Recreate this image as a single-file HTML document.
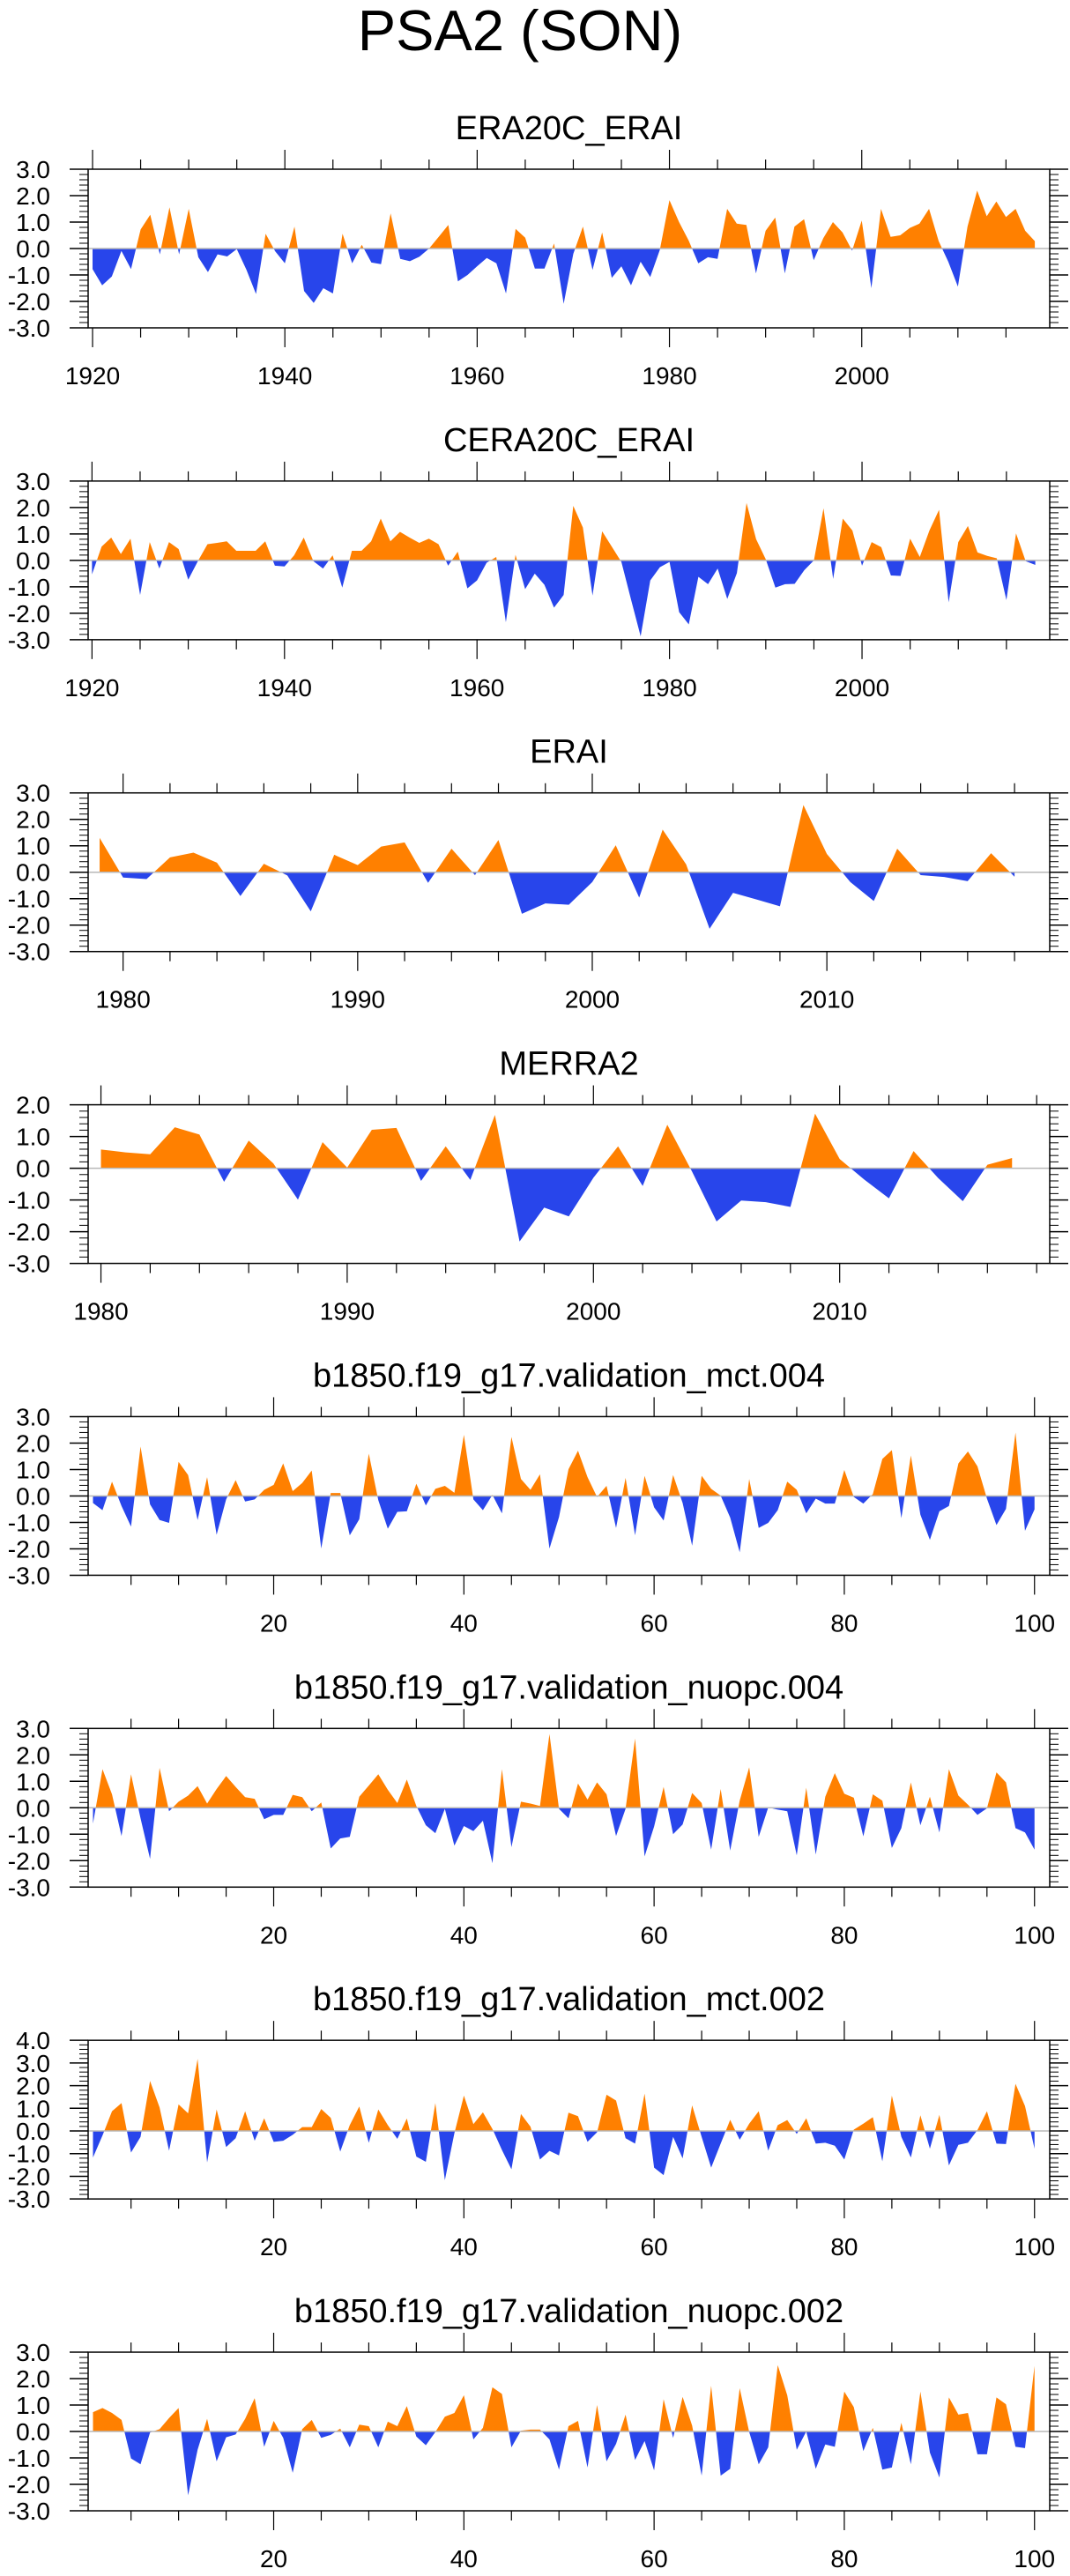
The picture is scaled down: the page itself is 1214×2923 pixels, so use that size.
<!DOCTYPE html>
<html><head><meta charset="utf-8"><title>PSA2 (SON)</title>
<style>
html,body{margin:0;padding:0;background:#fff;}
svg{display:block;font-family:"Liberation Sans",Arial,sans-serif;}
</style></head>
<body>
<svg id="fig" width="1214" height="2923" viewBox="0 0 1214 2923" xmlns="http://www.w3.org/2000/svg">
<text x="590" y="57" font-size="65" text-anchor="middle">PSA2 (SON)</text>
</svg>
<script>
const era20cVals=[-0.78,-1.39,-1.06,-0.09,-0.78,0.72,1.28,-0.22,1.56,-0.22,1.5,-0.33,-0.89,-0.22,-0.3,-0.02,-0.8,-1.72,0.56,-0.11,-0.56,0.83,-1.61,-2.06,-1.5,-1.7,0.56,-0.56,0.14,-0.53,-0.59,1.33,-0.39,-0.48,-0.31,0.0,0.44,0.89,-1.24,-1.0,-0.67,-0.36,-0.56,-1.7,0.74,0.41,-0.76,-0.76,0.19,-2.09,-0.2,0.83,-0.81,0.61,-1.11,-0.67,-1.39,-0.5,-1.08,-0.05,1.83,1.0,0.3,-0.56,-0.33,-0.39,1.5,0.94,0.89,-0.94,0.67,1.17,-0.94,0.83,1.11,-0.44,0.39,1.0,0.61,-0.08,1.06,-1.5,1.5,0.44,0.5,0.78,0.94,1.5,0.28,-0.5,-1.44,0.83,2.19,1.22,1.78,1.19,1.5,0.67,0.28];
const ceraVals=[-0.53,0.52,0.86,0.24,0.82,-1.31,0.69,-0.31,0.69,0.43,-0.73,-0.03,0.61,0.66,0.72,0.36,0.36,0.36,0.72,-0.2,-0.23,0.19,0.86,-0.03,-0.31,0.19,-1.03,0.36,0.36,0.72,1.58,0.72,1.08,0.86,0.66,0.82,0.61,-0.2,0.33,-1.06,-0.76,-0.09,0.13,-2.34,0.21,-1.09,-0.5,-0.92,-1.79,-1.31,2.06,1.24,-1.33,1.1,0.52,-0.06,-1.48,-2.87,-0.76,-0.26,-0.06,-1.96,-2.42,-0.62,-0.9,-0.31,-1.46,-0.48,2.17,0.8,0.04,-1.03,-0.9,-0.89,-0.37,0.0,1.97,-0.7,1.58,1.13,-0.2,0.69,0.5,-0.57,-0.59,0.82,0.13,1.13,1.91,-1.59,0.69,1.3,0.3,0.17,0.08,-1.5,1.02,-0.03,-0.17];
const eraiVals=[1.3,-0.2,-0.26,0.56,0.74,0.36,-0.9,0.32,-0.12,-1.48,0.66,0.27,0.97,1.13,-0.4,0.89,-0.11,1.22,-1.57,-1.18,-1.23,-0.37,1.02,-0.96,1.61,0.3,-2.14,-0.78,-1.03,-1.29,2.54,0.69,-0.37,-1.09,0.89,-0.11,-0.18,-0.34,0.72,-0.17];
const merraVals=[0.59,0.5,0.44,1.29,1.06,-0.43,0.87,0.15,-0.99,0.82,0.02,1.21,1.27,-0.4,0.69,-0.37,1.68,-2.31,-1.24,-1.52,-0.3,0.69,-0.56,1.37,-0.1,-1.68,-1.02,-1.07,-1.22,1.72,0.29,-0.36,-0.95,0.54,-0.31,-1.04,0.11,0.32];
const mct004Vals=[-0.27,-0.54,0.54,-0.38,-1.16,1.87,-0.32,-0.91,-1.02,1.29,0.79,-0.91,0.71,-1.47,-0.13,0.6,-0.21,-0.13,0.23,0.42,1.23,0.18,0.49,0.96,-1.99,0.11,0.11,-1.49,-0.88,1.6,-0.16,-1.24,-0.6,-0.58,0.46,-0.36,0.27,0.38,0.12,2.31,-0.13,-0.54,0.04,-0.66,2.23,0.64,0.23,0.82,-1.99,-0.8,1.01,1.71,0.71,-0.04,0.38,-1.21,0.68,-1.49,0.76,-0.43,-0.93,0.79,-0.27,-1.88,0.76,0.27,0.01,-0.82,-2.13,0.64,-1.21,-1.02,-0.54,0.54,0.23,-0.66,-0.1,-0.29,-0.29,0.98,-0.04,-0.29,0.07,1.4,1.73,-0.84,1.53,-0.71,-1.66,-0.58,-0.38,1.23,1.68,1.12,-0.1,-1.1,-0.49,2.4,-1.32,-0.51];
const nuopc004Vals=[-0.6,1.46,0.51,-1.07,1.27,-0.4,-1.93,1.51,-0.13,0.23,0.46,0.82,0.16,0.71,1.2,0.79,0.4,0.34,-0.43,-0.27,-0.27,0.49,0.4,-0.13,0.2,-1.54,-1.16,-1.1,0.42,0.84,1.27,0.68,0.18,1.07,0.07,-0.66,-0.96,-0.04,-1.43,-0.69,-0.88,-0.49,-2.1,1.46,-1.49,0.23,0.16,0.07,2.79,-0.04,-0.4,0.92,0.31,0.96,0.51,-1.07,-0.04,2.62,-1.84,-0.71,0.79,-1.0,-0.63,0.56,0.18,-1.58,0.71,-1.62,0.27,1.53,-1.1,0.01,-0.07,-0.13,-1.8,0.76,-1.77,0.42,1.31,0.53,0.38,-1.08,0.51,0.27,-1.52,-0.77,0.96,-0.66,0.42,-0.93,1.46,0.46,0.12,-0.27,-0.02,1.34,0.96,-0.77,-0.93,-1.58];
const mct002Vals=[-1.17,-0.2,0.87,1.23,-0.95,-0.26,2.21,1.04,-0.87,1.17,0.78,3.18,-1.39,0.95,-0.71,-0.32,0.87,-0.43,0.56,-0.48,-0.43,-0.17,0.17,0.17,0.97,0.58,-0.91,0.26,1.08,-0.52,0.95,0.26,-0.35,0.55,-1.13,-1.36,1.23,-2.17,-0.1,1.56,0.3,0.82,0.09,-0.84,-1.69,0.75,0.19,-1.26,-0.88,-1.08,0.81,0.65,-0.48,-0.06,1.6,1.34,-0.32,-0.56,1.65,-1.62,-1.95,-0.26,-1.21,1.13,-0.26,-1.62,-0.56,0.49,-0.39,0.32,0.87,-0.87,0.26,0.48,-0.13,0.56,-0.56,-0.52,-0.65,-1.26,0.06,0.32,0.61,-1.34,1.56,-0.26,-1.17,0.69,-0.78,0.71,-1.52,-0.61,-0.52,0.04,0.87,-0.56,-0.58,2.08,1.1,-0.78];
const nuopc002Vals=[0.73,0.89,0.7,0.44,-1.02,-1.24,-0.04,0.09,0.51,0.89,-2.41,-0.69,0.48,-1.13,-0.22,-0.11,0.48,1.26,-0.58,0.4,-0.24,-1.56,0.09,0.44,-0.24,-0.13,0.11,-0.6,0.26,0.2,-0.6,0.37,0.2,0.96,-0.19,-0.52,-0.02,0.56,0.7,1.37,-0.3,0.14,1.67,1.42,-0.6,0.03,0.07,0.07,-0.3,-1.44,0.2,0.4,-1.36,1.0,-1.13,-0.47,0.64,-1.08,-0.36,-1.47,1.22,-0.24,1.31,0.22,-1.67,1.73,-1.67,-1.41,1.64,-0.02,-1.24,-0.6,2.51,1.37,-0.69,0.0,-1.41,-0.49,-0.58,1.51,0.92,-0.74,0.14,-1.44,-1.36,0.33,-1.24,1.51,-0.8,-1.74,1.29,0.64,0.7,-0.86,-0.86,1.29,1.03,-0.58,-0.63,2.48];
const yearTickLabelsLong=["1920","1940","1960","1980","2000"];
const yearTickLabelsShort=["1980","1990","2000","2010"];
const memberTickLabels=["20","40","60","80","100"];

const NS="http://www.w3.org/2000/svg";
const svg=document.getElementById("fig");
const BOX_L=100,BOX_R=1191,BOX_H=180,TOP0=192,GAP=353.86;

const panels=[
 {title:"ERA20C_ERAI",name:"era20c-erai",vals:era20cVals,x0:1920,xmin:1919.54,xmax:2019.55,ymin:-3,ymax:3,labels:yearTickLabelsLong,minorStep:5},
 {title:"CERA20C_ERAI",name:"cera20c-erai",vals:ceraVals,x0:1920,xmin:1919.6,xmax:2019.5,ymin:-3,ymax:3,labels:yearTickLabelsLong,minorStep:5},
 {title:"ERAI",name:"erai",vals:eraiVals,x0:1979,xmin:1978.51,xmax:2019.5,ymin:-3,ymax:3,labels:yearTickLabelsShort,minorStep:2},
 {title:"MERRA2",name:"merra2",vals:merraVals,x0:1980,xmin:1979.48,xmax:2018.53,ymin:-3,ymax:2,labels:yearTickLabelsShort,minorStep:2},
 {title:"b1850.f19_g17.validation_mct.004",name:"mct-004",vals:mct004Vals,x0:1,xmin:0.49,xmax:101.6,ymin:-3,ymax:3,labels:memberTickLabels,minorStep:5},
 {title:"b1850.f19_g17.validation_nuopc.004",name:"nuopc-004",vals:nuopc004Vals,x0:1,xmin:0.49,xmax:101.6,ymin:-3,ymax:3,labels:memberTickLabels,minorStep:5},
 {title:"b1850.f19_g17.validation_mct.002",name:"mct-002",vals:mct002Vals,x0:1,xmin:0.49,xmax:101.6,ymin:-3,ymax:4,labels:memberTickLabels,minorStep:5},
 {title:"b1850.f19_g17.validation_nuopc.002",name:"nuopc-002",vals:nuopc002Vals,x0:1,xmin:0.49,xmax:101.6,ymin:-3,ymax:3,labels:memberTickLabels,minorStep:5}
];

function mk(tag,attrs,parent){
  const e=document.createElementNS(NS,tag);
  for(const k in attrs)e.setAttribute(k,attrs[k]);
  (parent||svg).appendChild(e);
  return e;
}
function ln(g,x1,y1,x2,y2,w){
  const l=mk("line",{x1:x1,y1:y1,x2:x2,y2:y2,stroke:"#000","stroke-width":w},g);
  
  
  return l;
}

panels.forEach((p,k)=>{
  const top=TOP0+k*GAP,bot=top+BOX_H;
  const xs=v=>BOX_L+(v-p.xmin)/(p.xmax-p.xmin)*(BOX_R-BOX_L);
  const ys=v=>bot-(v-p.ymin)/(p.ymax-p.ymin)*BOX_H;
  const g=mk("g",{});
  
  

  const t=mk("text",{x:(BOX_L+BOX_R)/2,y:top-34,"font-size":38,"text-anchor":"middle"},g);
  t.textContent=p.title;
  
  

  // clip paths
  const y0=ys(0);
  const defs=mk("defs",{},g);
  const cpA=mk("clipPath",{id:"ca"+k},defs);
  mk("rect",{x:BOX_L,y:top,width:BOX_R-BOX_L,height:y0-top},cpA);
  const cpB=mk("clipPath",{id:"cb"+k},defs);
  mk("rect",{x:BOX_L,y:y0,width:BOX_R-BOX_L,height:bot-y0},cpB);

  let pts=[];
  p.vals.forEach((v,i)=>{pts.push(xs(p.x0+i).toFixed(2)+","+ys(v).toFixed(2));});
  const xa=xs(p.x0).toFixed(2),xb=xs(p.x0+p.vals.length-1).toFixed(2);
  const poly=xa+","+y0.toFixed(2)+" "+pts.join(" ")+" "+xb+","+y0.toFixed(2);
  const pos=mk("polygon",{points:poly,fill:"#ff8000","clip-path":"url(#ca"+k+")"},g);
  
  
  const neg=mk("polygon",{points:poly,fill:"#2845eb","clip-path":"url(#cb"+k+")"},g);
  
  

  const zl=mk("line",{x1:BOX_L,y1:y0,x2:BOX_R,y2:y0,stroke:"#b8b8b8","stroke-width":1.5},g);
  
  

  const box=mk("rect",{x:BOX_L,y:top,width:BOX_R-BOX_L,height:BOX_H,fill:"none",stroke:"#000","stroke-width":1.5},g);
  
  

  // y ticks
  for(let v10=p.ymin*10;v10<=p.ymax*10;v10+=2){
    const v=v10/10,y=ys(v),major=(v10%10===0);
    const len=major?21:10;
    ln(g,BOX_L-len,y,BOX_L,y,major?1.5:1);
    ln(g,BOX_R,y,BOX_R+len,y,major?1.5:1);
    if(major){
      const tl=mk("text",{x:57,y:y+10,"font-size":28,"text-anchor":"end"},g);
      tl.textContent=v.toFixed(1);
      
      
    }
  }
  // x ticks
  const majors=p.labels.map(Number);
  const majStep=majors[1]-majors[0];
  const start=Math.ceil(p.xmin/p.minorStep)*p.minorStep;
  for(let v=start;v<=p.xmax;v+=p.minorStep){
    const x=xs(v),major=(v%majStep===0);
    const len=major?22:11;
    ln(g,x,top-len,x,top,1.2);
    ln(g,x,bot,x,bot+len,1.2);
  }
  p.labels.forEach(lab=>{
    const tl=mk("text",{x:xs(Number(lab)),y:bot+64,"font-size":28,"text-anchor":"middle"},g);
    tl.textContent=lab;
    
    
  });
});
</script>
</body></html>
